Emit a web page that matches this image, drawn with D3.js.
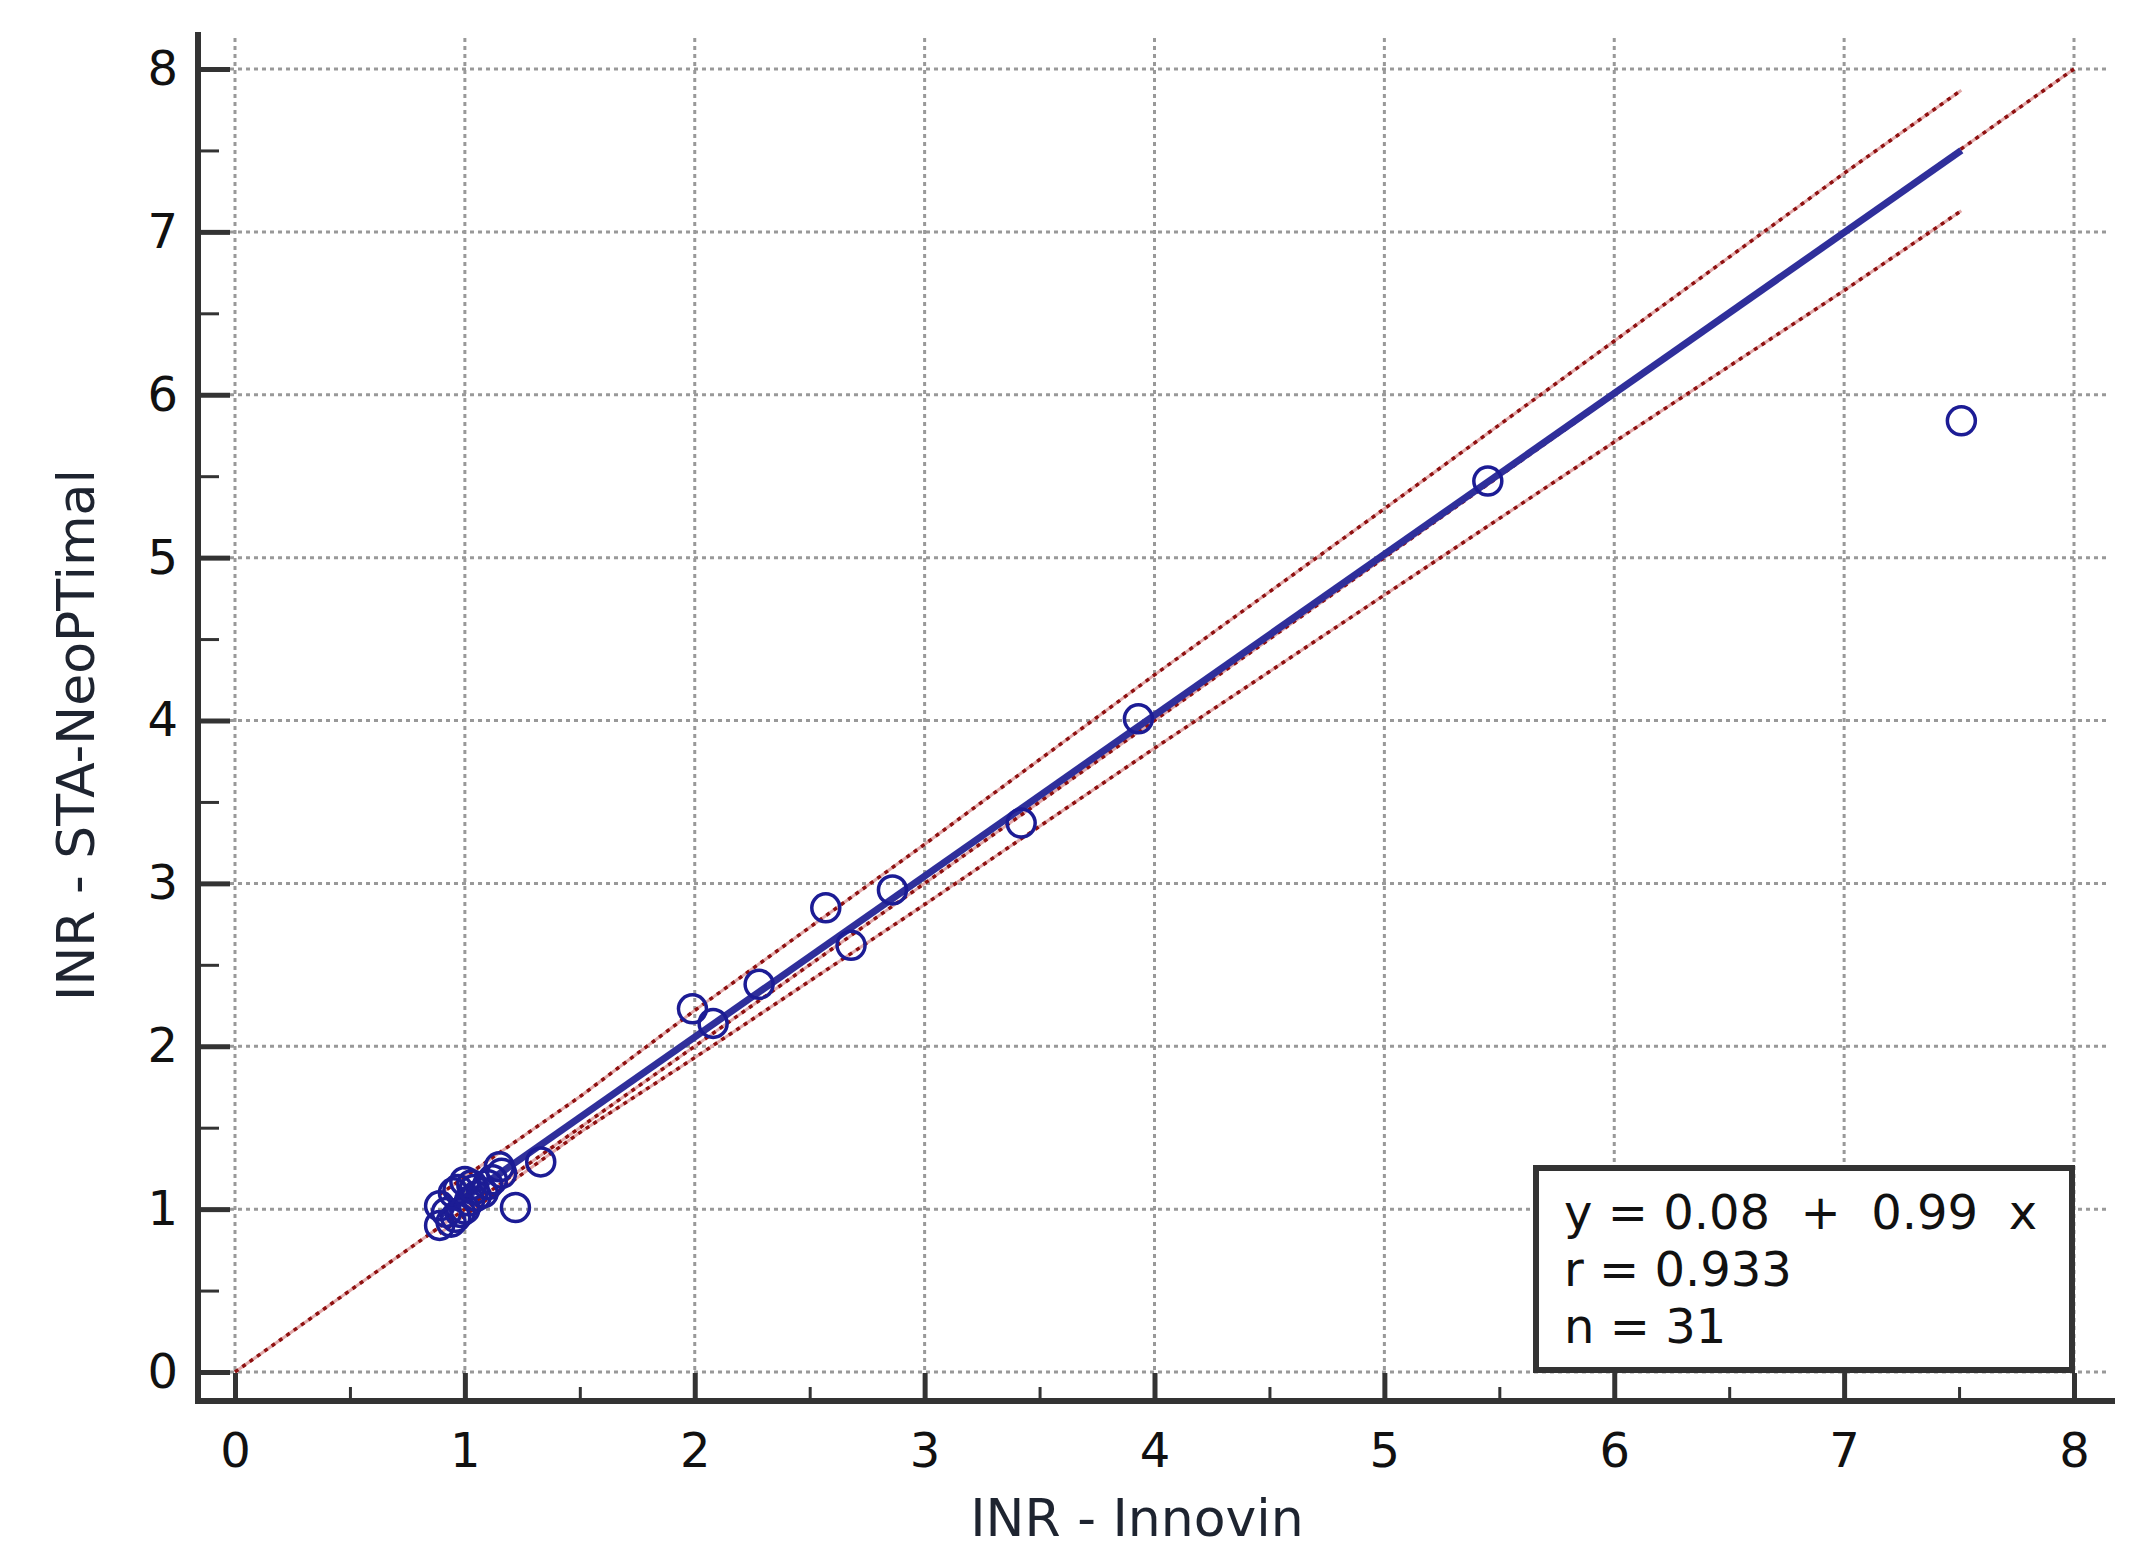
<!DOCTYPE html>
<html>
<head>
<meta charset="utf-8">
<script src="https://cdn.jsdelivr.net/npm/d3@7"></script>
<style>
	body { margin: 0; background: #fff; }
	svg text { font-family: "DejaVu Sans", Verdana, sans-serif; }
</style>
</head>
<body>
<div id="scatter"></div>
<script>

// INR values (x = Innovin, y = STA-NeoPTimal)
var innovin = [7.51, 5.45, 3.93, 3.42, 2.86, 2.57, 2.68, 2.28, 1.99, 2.08,
	1.33, 1.22, 1.15, 1.16, 1.00, 1.03, 0.97, 0.95, 0.89, 0.89,
	0.96, 0.98, 1.02, 1.05, 1.08, 0.92, 1.00, 1.10, 0.94, 1.04, 1.12];
var neoptimal = [5.84, 5.47, 4.01, 3.37, 2.96, 2.85, 2.62, 2.38, 2.23, 2.14,
	1.29, 1.01, 1.26, 1.22, 1.17, 1.15, 1.12, 1.10, 1.02, 0.90,
	0.95, 0.98, 1.05, 1.08, 1.10, 0.98, 1.00, 1.15, 0.92, 1.12, 1.18];

// regression line and its 95% band, as drawn
var regX = [0.89, 7.51];
var regY = [0.96, 7.50];
var bandX = [0.89, 1.5, 2, 3, 4, 5, 6, 7, 7.51];
var bandUpper = [1.09, 1.69, 2.22, 3.24, 4.28, 5.30, 6.33, 7.36, 7.87];
var bandLower = [0.85, 1.47, 1.93, 2.87, 3.83, 4.77, 5.71, 6.64, 7.13];

// line of identity
var identX = [0, 8];
var identY = [0, 8];

var majorTicks = [0, 1, 2, 3, 4, 5, 6, 7, 8];
var minorTicks = [0.5, 1.5, 2.5, 3.5, 4.5, 5.5, 6.5, 7.5];

var statLines = ["y = 0.08  +  0.99  x", "r = 0.933", "n = 31"];
var xTitle = "INR - Innovin";
var yTitle = "INR - STA-NeoPTimal";

var width = 2130,
	height = 1547,
	axisColor = "#333333",
	gridColor = "#999999";

var xScale = d3.scaleLinear().domain([0, 8]).range([235, 2074]),
	yScale = d3.scaleLinear().domain([0, 8]).range([1372, 69]);

var svg = d3.select("#scatter").append("svg")
	.attr("width", width)
	.attr("height", height);

// Dotted grid
var grid = svg.append("g").attr("class", "grid");
grid.selectAll(".vgrid")
	.data(majorTicks)
	.enter().append("line")
	.attr("x1", function(d) { return xScale(d); })
	.attr("x2", function(d) { return xScale(d); })
	.attr("y1", 38)
	.attr("y2", 1375);
grid.selectAll(".hgrid")
	.data(majorTicks)
	.enter().append("line")
	.attr("x1", 230)
	.attr("x2", 2107)
	.attr("y1", function(d) { return yScale(d); })
	.attr("y2", function(d) { return yScale(d); });
grid.selectAll("line")
	.attr("stroke", gridColor)
	.attr("stroke-width", 3)
	.attr("stroke-dasharray", "4,4");

// Stats box (drawn under the data, over the grid)
var box = svg.append("g").attr("class", "stats");
box.append("rect")
	.attr("x", 1536)
	.attr("y", 1168)
	.attr("width", 536)
	.attr("height", 202)
	.attr("fill", "#fff")
	.attr("stroke", axisColor)
	.attr("stroke-width", 6);
box.selectAll("text")
	.data(statLines)
	.enter().append("text")
	.attr("x", 1564)
	.attr("y", function(d, i) { return 1229 + i * 57; })
	.style("font-size", "48px")
	.style("white-space", "pre")
	.attr("fill", "#111")
	.text(function(d) { return d; });

var line = d3.line()
	.x(function(d) { return xScale(d[0]); })
	.y(function(d) { return yScale(d[1]); });

function redDotted(xs, ys, cls) {
	var pts = xs.map(function(x, i) { return [x, ys[i]]; });
	svg.append("path")
		.datum(pts)
		.attr("class", cls)
		.attr("d", line)
		.attr("fill", "none")
		.attr("stroke", "#e2a9a9")
		.attr("stroke-width", 3);
	svg.append("path")
		.datum(pts)
		.attr("class", cls)
		.attr("d", line)
		.attr("fill", "none")
		.attr("stroke", "#8e1010")
		.attr("stroke-width", 3.5)
		.attr("stroke-dasharray", "4,5");
}

redDotted(identX, identY, "identity");
redDotted(bandX, bandUpper, "band");
redDotted(bandX, bandLower, "band");

// Regression line
svg.append("path")
	.datum(regX.map(function(x, i) { return [x, regY[i]]; }))
	.attr("d", line)
	.attr("fill", "none")
	.attr("stroke", "#2f2f9b")
	.attr("stroke-width", 7);

// Points
svg.append("g")
	.attr("class", "points")
	.selectAll("circle")
	.data(innovin)
	.enter().append("circle")
	.attr("cx", function(d) { return xScale(d); })
	.attr("cy", function(d, i) { return yScale(neoptimal[i]); })
	.attr("r", 14)
	.attr("fill", "none")
	.attr("stroke", "#1c1c95")
	.attr("stroke-width", 3.5);

// Axes: thick frame lines, inward ticks
var yAxis = svg.append("g")
	.attr("class", "axis axis--y")
	.attr("transform", "translate(198,0)")
	.call(d3.axisLeft(yScale).tickValues(majorTicks).tickFormat(d3.format("d"))
		.tickSizeInner(-32).tickSizeOuter(0).tickPadding(20));
var yMinor = svg.append("g")
	.attr("transform", "translate(198,0)")
	.call(d3.axisLeft(yScale).tickValues(minorTicks).tickFormat("")
		.tickSizeInner(-21).tickSizeOuter(0));

var xAxis = svg.append("g")
	.attr("class", "axis axis--x")
	.attr("transform", "translate(0,1401)")
	.call(d3.axisBottom(xScale).tickValues(majorTicks).tickFormat(d3.format("d"))
		.tickSizeInner(-28).tickSizeOuter(0).tickPadding(32));
var xMinor = svg.append("g")
	.attr("transform", "translate(0,1401)")
	.call(d3.axisBottom(xScale).tickValues(minorTicks).tickFormat("")
		.tickSizeInner(-14).tickSizeOuter(0));

svg.selectAll(".domain").remove();
yAxis.selectAll(".tick line").attr("stroke", axisColor).attr("stroke-width", 5);
xAxis.selectAll(".tick line").attr("stroke", axisColor).attr("stroke-width", 5);
yMinor.selectAll(".tick line").attr("stroke", axisColor).attr("stroke-width", 3);
xMinor.selectAll(".tick line").attr("stroke", axisColor).attr("stroke-width", 3);
svg.selectAll(".axis text")
	.style("font-size", "48px")
	.style("font-family", "'DejaVu Sans', Verdana, sans-serif")
	.attr("fill", "#111");

svg.append("line")
	.attr("x1", 198).attr("x2", 198)
	.attr("y1", 32).attr("y2", 1404)
	.attr("stroke", axisColor).attr("stroke-width", 6);
svg.append("line")
	.attr("x1", 195).attr("x2", 2115)
	.attr("y1", 1401).attr("y2", 1401)
	.attr("stroke", axisColor).attr("stroke-width", 6);

// Axis titles
svg.append("text")
	.attr("x", 1137)
	.attr("y", 1536)
	.style("text-anchor", "middle")
	.style("font-size", "52px")
	.attr("fill", "#1e2430")
	.text(xTitle);

svg.append("text")
	.attr("transform", "translate(94,735) rotate(-90)")
	.style("text-anchor", "middle")
	.style("font-size", "52px")
	.attr("fill", "#1e2430")
	.text(yTitle);

</script>
</body>
</html>
